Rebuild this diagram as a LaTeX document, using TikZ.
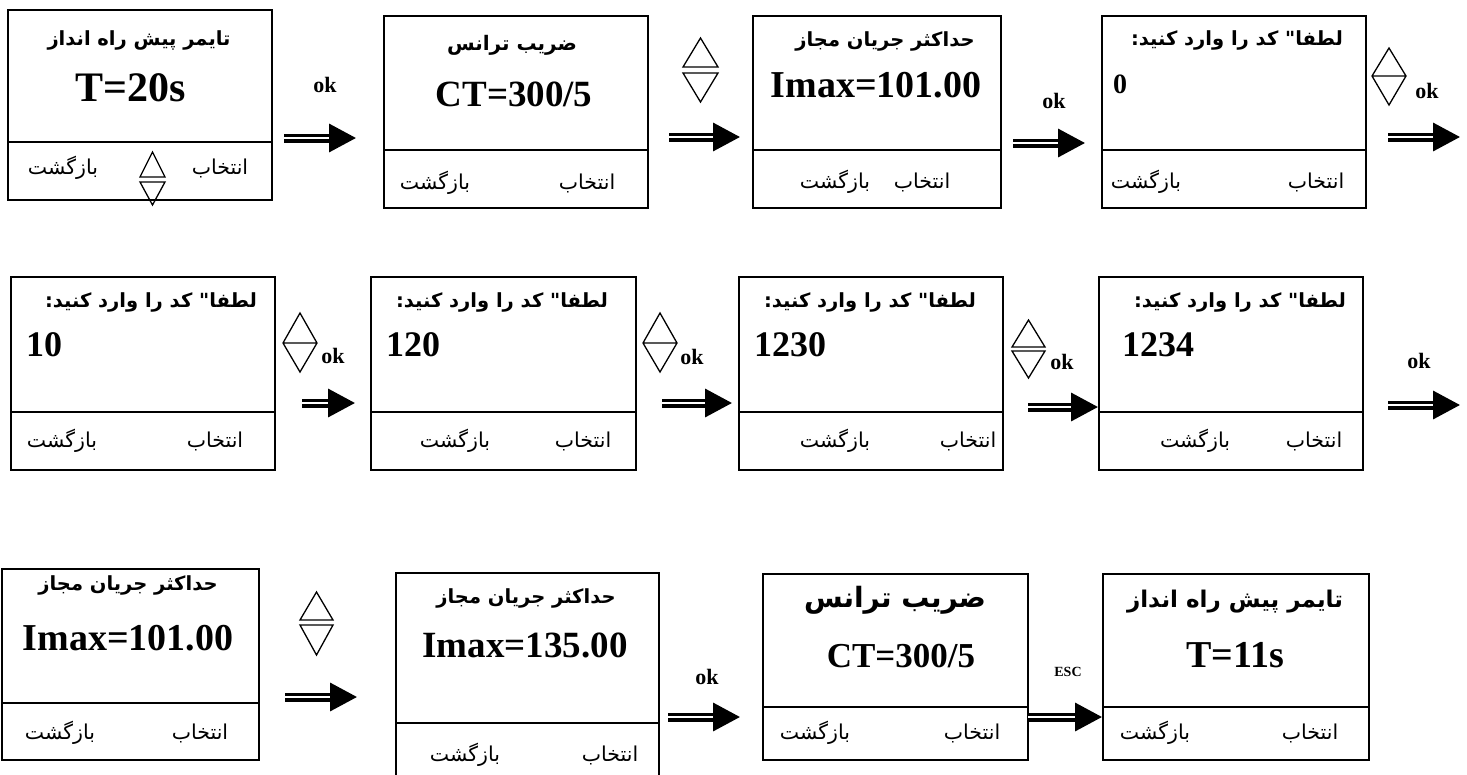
\documentclass[tikz,border=0pt]{standalone}
\usepackage{fontspec}
\setmainfont{Liberation Serif}
\newfontfamily\fa[Script=Arabic]{DejaVu Sans}
\usetikzlibrary{arrows.meta}
\TeXXeTstate=1
\newcommand{\fat}[1]{\beginR #1\endR}
\tikzset{
  scr/.style={draw, line width=2.2pt, anchor=north west, inner sep=0pt},
  divl/.style={line width=2.2pt},
  ttl/.style={font=\fa\bfseries\fontsize{19.5}{22}\selectfont, inner sep=0pt},
  val/.style={font=\bfseries\fontsize{37}{40}\selectfont, inner sep=0pt},
  num/.style={font=\bfseries\fontsize{36}{40}\selectfont, inner sep=0pt, anchor=west},
  btm/.style={font=\fa\fontsize{20.5}{22}\selectfont, inner sep=0pt},
  key/.style={font=\bfseries\fontsize{22}{24}\selectfont, inner sep=0pt},
  esc/.style={font=\bfseries\fontsize{14}{16}\selectfont, inner sep=0pt},
  darr/.style={line width=3.5pt, double, double distance=2pt, -{Triangle[length=27pt,width=28pt]}},
  tri/.style={line width=1.3pt, line join=miter},
}
\begin{document}
\begin{tikzpicture}[x=1pt,y=-1pt]
\useasboundingbox (0,0) rectangle (1467,774);
% ---------- Row 1 ----------
\node[scr, minimum width=264pt, minimum height=190pt] (b1) at (7,9) {};
\draw[divl] (b1.west |- 0,142) -- (b1.east |- 0,142);
\node[ttl] (t1) at (139,40) {\fat{تایمر پیش راه انداز}};
\node[val, font=\bfseries\fontsize{42}{44}\selectfont] (v1) at (131,88) {T=20s};
\node[btm] (k1) at (63,168) {\fat{بازگشت}};
\node[btm] (s1) at (220,168) {\fat{انتخاب}};
\draw[tri] (140,177) -- (165,177) -- (152.5,152) -- cycle;
\draw[tri] (140,182) -- (165,182) -- (152.5,205) -- cycle;
\node[key] (ok1) at (325,85) {ok};
\coordinate (a1s) at (284,138); \coordinate (a1e) at (356,138);
\draw[darr] (a1s) -- (a1e);

\node[scr, minimum width=264pt, minimum height=192pt] (b2) at (383,15) {};
\draw[divl] (b2.west |- 0,150) -- (b2.east |- 0,150);
\node[ttl, font=\fa\bfseries\fontsize{20}{22}\selectfont] (t2) at (512,45) {\fat{ضریب ترانس}};
\node[val] (v2) at (514,94) {CT=300/5};
\node[btm] (k2) at (435,183) {\fat{بازگشت}};
\node[btm] (s2) at (587,183) {\fat{انتخاب}};
\draw[tri] (683,67) -- (718,67) -- (700.5,38) -- cycle;
\draw[tri] (683,73) -- (718,73) -- (700.5,102) -- cycle;
\coordinate (a2s) at (669,137); \coordinate (a2e) at (740,137);
\draw[darr] (a2s) -- (a2e);

\node[scr, minimum width=248pt, minimum height=192pt] (b3) at (752,15) {};
\draw[divl] (b3.west |- 0,150) -- (b3.east |- 0,150);
\node[ttl] (t3) at (885,41) {\fat{حداکثر جریان مجاز}};
\node[val, font=\bfseries\fontsize{38}{40}\selectfont] (v3) at (876,85) {Imax=101.00};
\node[btm] (k3) at (835,182) {\fat{بازگشت}};
\node[btm] (s3) at (922,182) {\fat{انتخاب}};
\node[key] (ok3) at (1054,101) {ok};
\coordinate (a3s) at (1013,143); \coordinate (a3e) at (1085,143);
\draw[darr] (a3s) -- (a3e);

\node[scr, minimum width=264pt, minimum height=192pt] (b4) at (1101,15) {};
\draw[divl] (b4.west |- 0,150) -- (b4.east |- 0,150);
\node[ttl] (t4) at (1237,40) {\fat{لطفا" کد را وارد کنید:}};
\node[num, font=\bfseries\fontsize{28}{30}\selectfont] (v4) at (1113,84) {0};
\node[btm] (k4) at (1146,182) {\fat{بازگشت}};
\node[btm] (s4) at (1316,182) {\fat{انتخاب}};
\draw[tri] (1372,76) -- (1389,48) -- (1406,76) -- (1389,105) -- cycle (1372,76) -- (1406,76);
\node[key] (ok4) at (1427,91) {ok};
\coordinate (a4s) at (1388,137); \coordinate (a4e) at (1460,137);
\draw[darr] (a4s) -- (a4e);

% ---------- Row 2 ----------
\node[scr, minimum width=264pt, minimum height=193pt] (b5) at (10,276) {};
\draw[divl] (b5.west |- 0,412) -- (b5.east |- 0,412);
\node[ttl] (t5) at (151,302) {\fat{لطفا" کد را وارد کنید:}};
\node[num] (v5) at (26,345) {10};
\node[btm] (k5) at (62,441) {\fat{بازگشت}};
\node[btm] (s5) at (215,441) {\fat{انتخاب}};
\draw[tri] (283,343) -- (300,313) -- (317,343) -- (300,372) -- cycle (283,343) -- (317,343);
\node[key] (ok5) at (333,356) {ok};
\coordinate (a5s) at (302,403); \coordinate (a5e) at (355,403);
\draw[darr] (a5s) -- (a5e);

\node[scr, minimum width=265pt, minimum height=193pt] (b6) at (370,276) {};
\draw[divl] (b6.west |- 0,412) -- (b6.east |- 0,412);
\node[ttl] (t6) at (502,302) {\fat{لطفا" کد را وارد کنید:}};
\node[num] (v6) at (386,345) {120};
\node[btm] (k6) at (455,441) {\fat{بازگشت}};
\node[btm] (s6) at (583,441) {\fat{انتخاب}};
\draw[tri] (643,343) -- (660,313) -- (677,343) -- (660,372) -- cycle (643,343) -- (677,343);
\node[key] (ok6) at (692,357) {ok};
\coordinate (a6s) at (662,403); \coordinate (a6e) at (732,403);
\draw[darr] (a6s) -- (a6e);

\node[scr, minimum width=264pt, minimum height=193pt] (b7) at (738,276) {};
\draw[divl] (b7.west |- 0,412) -- (b7.east |- 0,412);
\node[ttl] (t7) at (870,302) {\fat{لطفا" کد را وارد کنید:}};
\node[num] (v7) at (754,345) {1230};
\node[btm] (k7) at (835,441) {\fat{بازگشت}};
\node[btm] (s7) at (968,441) {\fat{انتخاب}};
\draw[tri] (1012,347) -- (1045,347) -- (1028.5,320) -- cycle;
\draw[tri] (1012,351) -- (1045,351) -- (1028.5,378) -- cycle;
\node[key] (ok7) at (1062,362) {ok};
\coordinate (a7s) at (1028,407); \coordinate (b8w) at (1098,407);
\draw[darr] (a7s) -- (b8w);

\node[scr, minimum width=264pt, minimum height=193pt] (b8) at (1098,276) {};
\draw[divl] (b8.west |- 0,412) -- (b8.east |- 0,412);
\node[ttl] (t8) at (1240,302) {\fat{لطفا" کد را وارد کنید:}};
\node[num] (v8) at (1122,345) {1234};
\node[btm] (k8) at (1195,441) {\fat{بازگشت}};
\node[btm] (s8) at (1314,441) {\fat{انتخاب}};
\node[key] (ok8) at (1419,361) {ok};
\coordinate (a8s) at (1388,405); \coordinate (a8e) at (1460,405);
\draw[darr] (a8s) -- (a8e);

% ---------- Row 3 ----------
\node[scr, minimum width=257pt, minimum height=191pt] (b9) at (1,568) {};
\draw[divl] (b9.west |- 0,703) -- (b9.east |- 0,703);
\node[ttl] (t9) at (128,585) {\fat{حداکثر جریان مجاز}};
\node[val, font=\bfseries\fontsize{38}{40}\selectfont] (v9) at (128,638) {Imax=101.00};
\node[btm] (k9) at (60,733) {\fat{بازگشت}};
\node[btm] (s9) at (200,733) {\fat{انتخاب}};
\draw[tri] (300,620) -- (333,620) -- (316.5,592) -- cycle;
\draw[tri] (300,625) -- (333,625) -- (316.5,655) -- cycle;
\coordinate (a9s) at (285,697); \coordinate (a9e) at (357,697);
\draw[darr] (a9s) -- (a9e);

\node[scr, minimum width=263pt, minimum height=215pt] (b10) at (395,572) {};
\draw[divl] (b10.west |- 0,723) -- (b10.east |- 0,723);
\node[ttl] (t10) at (526,598) {\fat{حداکثر جریان مجاز}};
\node[val] (v10) at (525,645) {Imax=135.00};
\node[btm] (k10) at (465,755) {\fat{بازگشت}};
\node[btm] (s10) at (610,755) {\fat{انتخاب}};
\node[key] (ok10) at (707,677) {ok};
\coordinate (a10s) at (668,717); \coordinate (a10e) at (740,717);
\draw[darr] (a10s) -- (a10e);

\node[scr, minimum width=265pt, minimum height=186pt] (b11) at (762,573) {};
\draw[divl] (b11.west |- 0,707) -- (b11.east |- 0,707);
\node[ttl, font=\fa\bfseries\fontsize{28}{30}\selectfont] (t11) at (895,600) {\fat{ضریب ترانس}};
\node[val, font=\bfseries\fontsize{35}{38}\selectfont] (v11) at (901,656) {CT=300/5};
\node[btm] (k11) at (815,733) {\fat{بازگشت}};
\node[btm] (s11) at (972,733) {\fat{انتخاب}};
\node[esc] (e11) at (1068,672) {ESC};
\coordinate (a11s) at (1028,717); \coordinate (b12w) at (1102,717);
\draw[darr] (a11s) -- (b12w);

\node[scr, minimum width=266pt, minimum height=186pt] (b12) at (1102,573) {};
\draw[divl] (b12.west |- 0,707) -- (b12.east |- 0,707);
\node[ttl, font=\fa\bfseries\fontsize{23}{26}\selectfont] (t12) at (1235,602) {\fat{تایمر پیش راه انداز}};
\node[val, font=\bfseries\fontsize{38}{40}\selectfont] (v12) at (1235,655) {T=11s};
\node[btm] (k12) at (1155,733) {\fat{بازگشت}};
\node[btm] (s12) at (1310,733) {\fat{انتخاب}};
\end{tikzpicture}
\end{document}
